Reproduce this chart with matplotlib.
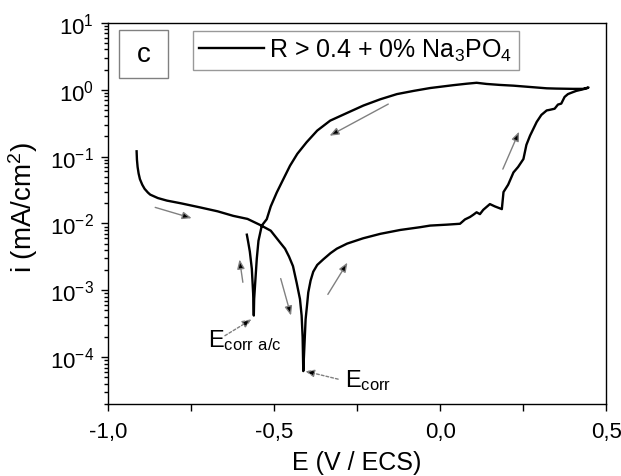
import matplotlib
matplotlib.use("Agg")
import matplotlib.pyplot as plt
import matplotlib.patches as mpatches
from matplotlib.ticker import FixedLocator, LogLocator, NullFormatter

plt.rcParams["font.family"] = ["Liberation Sans", "DejaVu Sans"]
plt.rcParams["mathtext.default"] = "regular"
plt.rcParams["axes.unicode_minus"] = False

# ── Data: cyclic polarization curve (E in V/ECS, i in mA/cm2) ──────────────
# forward scan, cathodic branch down to Ecorr
E_fwd = [-0.914, -0.913, -0.911, -0.908, -0.904, -0.897, -0.890, -0.880, -0.873,
         -0.850, -0.823, -0.780, -0.723, -0.670, -0.623, -0.580, -0.542, -0.510,
         -0.482, -0.467, -0.455, -0.443, -0.432, -0.422, -0.417, -0.414, -0.412]
i_fwd = [0.12, 0.09, 0.07, 0.056, 0.046, 0.038, 0.033, 0.029, 0.027,
         0.024, 0.022, 0.020, 0.0174, 0.0152, 0.013, 0.0117, 0.0095, 0.0078,
         0.0052, 0.0042, 0.0032, 0.0023, 0.0013, 7.4e-4, 4.2e-4, 2.0e-4, 6.2e-5]

# anodic branch up to the vertex
E_anod = [-0.405, -0.400, -0.397, -0.390, -0.382, -0.370, -0.352, -0.330, -0.311,
          -0.280, -0.232, -0.180, -0.120, -0.060, -0.030, 0.020, 0.060, 0.075,
          0.090, 0.100, 0.110, 0.120, 0.130, 0.150, 0.165, 0.186, 0.191, 0.205,
          0.221, 0.235, 0.251, 0.260, 0.271, 0.291, 0.305, 0.321, 0.330, 0.345,
          0.355, 0.365, 0.375, 0.385, 0.395, 0.410, 0.425, 0.442, 0.447]
i_anod = [3.7e-4, 6.5e-4, 9.3e-4, 1.4e-3, 1.9e-3, 2.4e-3, 2.9e-3, 3.6e-3, 4.2e-3,
          5.0e-3, 6.0e-3, 7.0e-3, 8.0e-3, 8.8e-3, 9.3e-3, 9.6e-3, 9.9e-3, 0.0115,
          0.0125, 0.0135, 0.0147, 0.0138, 0.016, 0.0195, 0.018, 0.0164, 0.0295, 0.038,
          0.058, 0.070, 0.092, 0.15, 0.206, 0.33, 0.42, 0.49, 0.50, 0.52,
          0.60, 0.62, 0.78, 0.86, 0.90, 0.96, 1.00, 1.05, 1.08]

# reverse scan back to Ecorr a/c and the short cathodic tail
E_rev = [0.430, 0.400, 0.350, 0.321, 0.280, 0.221, 0.180, 0.140, 0.110, 0.080,
         0.040, -0.030, -0.080, -0.130, -0.180, -0.231, -0.280, -0.331, -0.370,
         -0.402, -0.430, -0.452, -0.475, -0.492, -0.510, -0.522, -0.537, -0.547,
         -0.552, -0.556, -0.560, -0.561, -0.563, -0.567, -0.573, -0.578, -0.582]
i_rev = [1.03, 1.03, 1.04, 1.05, 1.09, 1.15, 1.18, 1.22, 1.27, 1.23,
         1.17, 1.06, 0.96, 0.86, 0.72, 0.58, 0.45, 0.345, 0.245,
         0.164, 0.11, 0.073, 0.043, 0.029, 0.018, 0.0116, 0.0093, 0.0055,
         0.0030, 0.0015, 7.4e-4, 4.2e-4, 9.0e-4, 2.1e-3, 3.8e-3, 5.3e-3, 6.8e-3]

E_all = E_fwd + E_anod + E_rev
i_all = i_fwd + i_anod + i_rev

# scan direction arrows: (E start, i start, E end, i end)
scan_arrows = [
    (-0.858, 0.0174, -0.748, 0.012),
    (-0.594, 1.32e-3, -0.604, 2.9e-3),
    (-0.480, 1.5e-3, -0.449, 4.2e-4),
    (-0.338, 8.7e-4, -0.279, 2.6e-3),
    (0.189, 0.065, 0.238, 0.236),
    (-0.156, 0.61, -0.333, 0.205),
]

x_major = [-1.0, -0.5, 0.0, 0.5]
x_major_labels = ["-1,0", "-0,5", "0,0", "0,5"]
x_minor = [-0.75, -0.25, 0.25]

fig = plt.figure(figsize=(6.21, 4.77), dpi=100)
ax = fig.add_axes([0.174, 0.151, 0.802, 0.799])

line, = ax.plot(E_all, i_all, color="black", lw=1.7,
                label=r"R > 0.4 + 0% Na$_3$PO$_4$")

ax.set_yscale("log")
ax.set_xlim(-1.0, 0.5)
ax.set_ylim(2e-5, 10)

ax.xaxis.set_major_locator(FixedLocator(x_major))
ax.set_xticklabels(x_major_labels)
ax.xaxis.set_minor_locator(FixedLocator(x_minor))
ax.yaxis.set_major_locator(FixedLocator([1e-4, 1e-3, 1e-2, 1e-1, 1, 10]))
ax.yaxis.set_minor_locator(LogLocator(base=10, subs=range(2, 10), numticks=20))
ax.yaxis.set_minor_formatter(NullFormatter())

ax.tick_params(which="both", direction="out", top=False, right=False,
               labelsize=16, width=1)
ax.tick_params(axis="x", which="both", length=5, pad=7)
ax.tick_params(axis="y", which="major", length=5, pad=5)
ax.tick_params(axis="y", which="minor", length=3)
for s in ax.spines.values():
    s.set_linewidth(1.0)

ax.set_xlabel("E (V / ECS)", fontsize=18)
ax.set_ylabel(r"i (mA/cm$^2$)", fontsize=20)
ax.xaxis.set_label_coords(0.5, -0.122)
ax.yaxis.set_label_coords(-0.137, 0.518)

# scan direction arrows
for x0, y0, x1, y1 in scan_arrows:
    ax.annotate("", xy=(x1, y1), xytext=(x0, y0),
                arrowprops=dict(arrowstyle="-|>,head_length=0.55,head_width=0.22",
                                ec="#808080", fc="black", lw=1.0,
                                shrinkA=0, shrinkB=0))

# Ecorr annotations
ax.annotate("", xy=(-0.567, 3.7e-4), xytext=(-0.648, 2.1e-4),
            arrowprops=dict(arrowstyle="-|>,head_length=0.55,head_width=0.22",
                            ec="#808080", fc="black", lw=1.0, ls=(0, (2, 1.5)),
                            shrinkA=0, shrinkB=0))
ax.annotate("", xy=(-0.407, 6.2e-5), xytext=(-0.307, 4.7e-5),
            arrowprops=dict(arrowstyle="-|>,head_length=0.55,head_width=0.22",
                            ec="#808080", fc="black", lw=1.0, ls=(0, (2, 1.5)),
                            shrinkA=0, shrinkB=0))
ax.text(-0.699, 1.48e-4, r"E$_{corr\ a/c}$", fontsize=17, ha="left", va="baseline")
ax.text(-0.286, 3.7e-5, r"E$_{corr}$", fontsize=17, ha="left", va="baseline")

# panel label box
ax.add_patch(mpatches.Rectangle((0.022, 0.856), 0.098, 0.126, transform=ax.transAxes,
                                fill=False, ec="#808080", lw=1.0))
ax.text(0.071, 0.919, "c", transform=ax.transAxes, fontsize=20,
        ha="center", va="center")

leg = ax.legend(handles=[line], loc="upper left", bbox_to_anchor=(0.171, 0.979),
                fontsize=18, frameon=True, fancybox=False, handlelength=2.6,
                handletextpad=0.2, borderpad=0.25, borderaxespad=0)
leg.get_frame().set_edgecolor("#808080")
leg.get_frame().set_linewidth(1.0)

fig.savefig("out.png", dpi=100)
